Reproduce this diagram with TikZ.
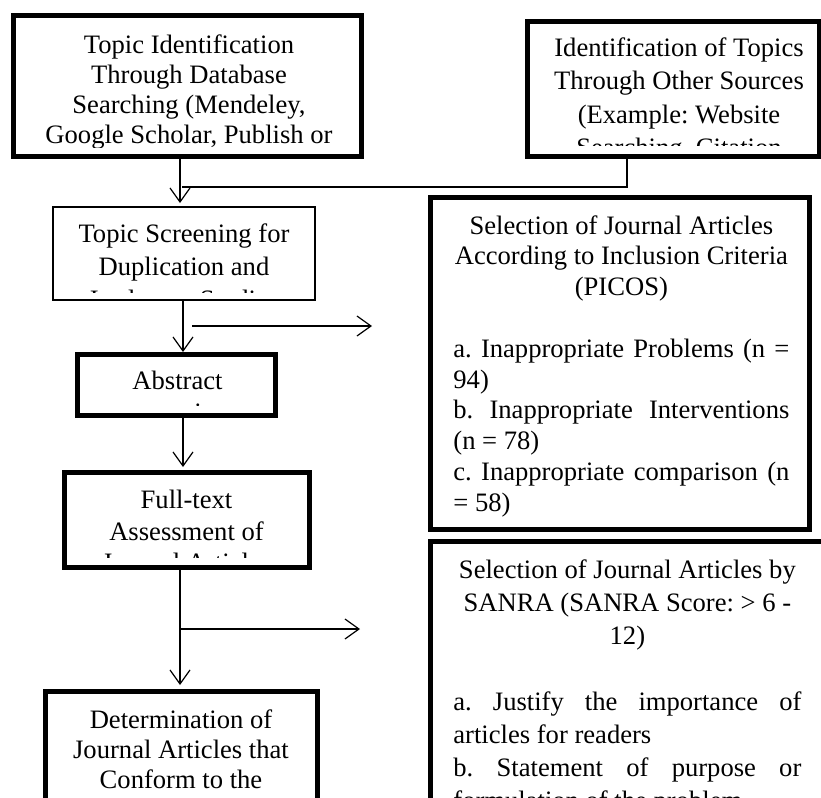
\documentclass[tikz,border=0pt]{standalone}
\usepackage{fontspec}
\setmainfont{Liberation Serif}
\usetikzlibrary{arrows.meta}

\begin{document}
\begin{tikzpicture}[x=0.5pt, y=-0.5pt,
	thickbox/.style={draw, line width=2.5pt, inner sep=0pt},
	thinbox/.style={draw, line width=1pt, inner sep=0pt},
	txt/.style={inner sep=0pt, align=center, anchor=north},
	lead/.style={font={\fontsize{13.3pt}{#1}\selectfont\frenchspacing\parindent=0pt\hyphenpenalty=10000\tolerance=9999}},
	flow/.style={line width=0.6pt, -{Straight Barb[length=7pt,width=10pt]}},
	link/.style={line width=0.6pt}]
	\useasboundingbox (0,0) rectangle (821,798);
	\clip (0,0) rectangle (821,798);

	\node[thickbox, minimum width=174pt, minimum height=70.5pt] (dbsearch) at (187.5,86) {};
	\node[thickbox, minimum width=146pt, minimum height=67.5pt] (othersrc) at (673.5,89) {};
	\node[thinbox, minimum width=131pt, minimum height=46.5pt] (screen) at (184,253.5) {};
	\node[thickbox, minimum width=99pt, minimum height=30.5pt] (abstr) at (176.5,385) {};
	\node[thickbox, minimum width=122.5pt, minimum height=47.5pt] (fulltext) at (187,520) {};
	\node[thickbox, minimum width=136pt, minimum height=104.25pt] (determ) at (181.5,795.75) {};
	\node[thickbox, minimum width=189.5pt, minimum height=166pt] (picos) at (620,363.5) {};
	\node[thickbox, minimum width=196.5pt, minimum height=179.25pt] (sanra) at (627,720.75) {};

	\begin{scope}
		\clip (dbsearch.north west) rectangle ([yshift=6pt]dbsearch.south east);
		\node[txt, lead=15pt] (dbsearch-t) at (189,34) {Topic Identification\\Through Database\\Searching (Mendeley,\\Google Scholar, Publish or};
	\end{scope}
	\begin{scope}
		\clip (othersrc.north west) rectangle ([yshift=7pt]othersrc.south east);
		\node[txt, lead=16.8pt] (othersrc-t) at (679,37) {Identification of Topics\\Through Other Sources\\(Example: Website\\Searching, Citation};
	\end{scope}
	\begin{scope}
		\clip (screen.north west) rectangle ([yshift=4.5pt]screen.south east);
		\node[txt, lead=16.5pt] (screen-t) at (184,223) {Topic Screening for\\Duplication and\\Irrelevant Studies};
	\end{scope}
	\begin{scope}
		\clip (abstr.north west) rectangle ([yshift=6.5pt]abstr.south east);
		\node[txt, lead=16pt] (abstr-t) at (177.5,371) {Abstract\\screening};
	\end{scope}
	\begin{scope}
		\clip (fulltext.north west) rectangle ([yshift=6.5pt]fulltext.south east);
		\node[txt, lead=15.75pt] (fulltext-t) at (186.5,490) {Full-text\\Assessment of\\Journal Articles};
	\end{scope}
	\node[txt, lead=15pt] (determ-t) at (181,709) {Determination of\\Journal Articles that\\Conform to the};

	\node[txt, lead=15.4pt, text width=168pt, align=justify, anchor=north west] (picos-t) at (453,215)
		{{\centering Selection of Journal Articles\\According to Inclusion Criteria\\(PICOS)\par}
		\leavevmode\par
		a. Inappropriate Problems (n =\linebreak 94)\par
		b. Inappropriate Interventions\linebreak (n = 78)\par
		c. Inappropriate comparison (n\linebreak = 58)};
	\node[txt, lead=16.5pt, text width=174pt, align=justify, anchor=north west] (sanra-t) at (453,559)
		{{\centering Selection of Journal Articles by\\SANRA (SANRA Score: > 6 -\\12)\par}
		\leavevmode\par
		a. Justify the importance of\linebreak articles for readers\par
		b. Statement of purpose or\linebreak formulation of the problem};

	\coordinate (join) at (182,187);
	\coordinate (excl1-a) at (192,326);
	\coordinate (excl1-b) at (372,326);
	\coordinate (excl2-a) at (180,629);
	\coordinate (excl2-b) at (360,629);

	\draw[flow] ([xshift=-3.75pt]dbsearch.south) -- ([xshift=-2pt,yshift=1.5pt]screen.north);
	\draw[link] ([xshift=-23.25pt]othersrc.south) |- (join);
	\draw[flow] ([xshift=-0.5pt]screen.south) -- ([xshift=3.25pt]abstr.north);
	\draw[flow] (excl1-a) -- (excl1-b);
	\draw[flow] ([xshift=3.25pt]abstr.south) -- ([xshift=-2pt,yshift=1.5pt]fulltext.north);
	\draw[flow] ([xshift=-3.5pt]fulltext.south) -- ([xshift=-0.75pt,yshift=2pt]determ.north);
	\draw[flow] (excl2-a) -- (excl2-b);
\end{tikzpicture}
\end{document}
